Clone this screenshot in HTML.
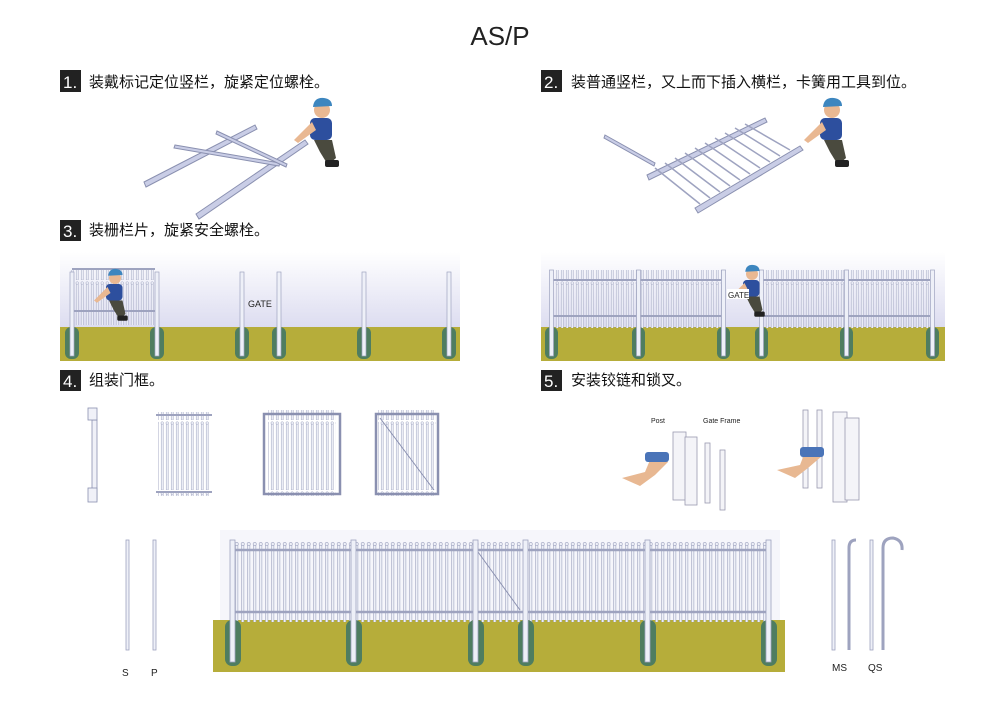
<!DOCTYPE html>
<html><head><meta charset="utf-8"><style>
html,body{margin:0;padding:0;background:#fff}
svg{display:block}
text{font-family:"Liberation Sans","Noto Sans CJK SC",sans-serif}
</style></head><body>
<svg width="1000" height="707" viewBox="0 0 1000 707" xmlns="http://www.w3.org/2000/svg">
<defs>
<pattern id="pk" x="0" y="0" width="6" height="90" patternUnits="userSpaceOnUse">
<rect x="1.5" y="4" width="2.4" height="86" fill="#eef0f8" stroke="#9ea3bf" stroke-width="0.6"/>
<circle cx="2.7" cy="4" r="1.6" fill="#eef0f8" stroke="#9ea3bf" stroke-width="0.6"/>
</pattern>
<pattern id="pk3" x="0" y="0" width="5" height="70" patternUnits="userSpaceOnUse">
<rect x="1.2" y="3" width="2" height="67" fill="#eef0f8" stroke="#9ea3bf" stroke-width="0.5"/>
<circle cx="2.2" cy="3" r="1.3" fill="#eef0f8" stroke="#9ea3bf" stroke-width="0.5"/>
</pattern>
<linearGradient id="sky" x1="0" y1="0" x2="0" y2="1">
<stop offset="0" stop-color="#fff"/><stop offset="1" stop-color="#dcdcf0"/>
</linearGradient>
<g id="man">
<circle cx="0" cy="0" r="8" fill="#e9b892"/>
<path d="M-9,-3 Q-8,-13 2,-12 Q10,-11 10,-4 Z" fill="#3d86bf"/>
<rect x="-12" y="8" width="22" height="22" rx="5" fill="#2d4f9e"/>
<path d="M-8,30 L10,30 L14,48 L6,55 L-2,42 Z" fill="#4a4a3e"/>
<rect x="3" y="50" width="14" height="7" rx="2" fill="#222"/>
<path d="M-10,12 L-28,30 L-24,33 L-6,20 Z" fill="#e9b892"/>
</g>
</defs>

<text x="500" y="45" text-anchor="middle" font-size="26" fill="#222">AS/P</text>

<rect x="60" y="70" width="21" height="22" fill="#222"/><text x="63" y="88" font-size="17" fill="#fff">1.</text>
<text x="89" y="87" font-size="15" fill="#111">装戴标记定位竖栏，旋紧定位螺栓。</text>
<rect x="541" y="70" width="21" height="22" fill="#222"/><text x="544" y="88" font-size="17" fill="#fff">2.</text>
<text x="571" y="87" font-size="15" fill="#111">装普通竖栏，又上而下插入横栏，卡簧用工具到位。</text>
<rect x="60" y="220" width="21" height="21" fill="#222"/><text x="63" y="237" font-size="17" fill="#fff">3.</text>
<text x="89" y="235" font-size="15" fill="#111">装栅栏片，旋紧安全螺栓。</text>
<rect x="60" y="370" width="21" height="21" fill="#222"/><text x="63" y="387" font-size="17" fill="#fff">4.</text>
<text x="89" y="385" font-size="15" fill="#111">组装门框。</text>
<rect x="541" y="370" width="21" height="21" fill="#222"/><text x="544" y="387" font-size="17" fill="#fff">5.</text>
<text x="571" y="385" font-size="15" fill="#111">安装铰链和锁叉。</text>

<g stroke="#8a90b0" stroke-width="1" fill="#c9cde6">
<polygon points="144,182 255,125 257,129 146,187"/>
<polygon points="196,214 305,140 308,144 199,219"/>
<polygon points="175,145 280,163 279,166 174,148"/>
<polygon points="217,131 287,164 286,167 216,134"/>
</g>
<use href="#man" transform="translate(322,110)"/>
<g stroke="#8a90b0" stroke-width="1" fill="#c9cde6">
<polygon points="647,175 765,118 767,122 649,180"/>
<polygon points="695,208 800,146 803,150 698,213"/>
<polygon points="605,135 655,163 654,166 604,138"/>
</g>
<g stroke="#9ea3c0" stroke-width="1.5">
<line x1="655" y1="168" x2="700" y2="204"/><line x1="665" y1="163" x2="710" y2="198"/>
<line x1="675" y1="158" x2="720" y2="192"/><line x1="685" y1="153" x2="730" y2="186"/>
<line x1="695" y1="148" x2="740" y2="180"/><line x1="705" y1="143" x2="750" y2="174"/>
<line x1="715" y1="138" x2="760" y2="168"/><line x1="725" y1="133" x2="770" y2="162"/>
<line x1="735" y1="128" x2="780" y2="156"/><line x1="745" y1="124" x2="790" y2="150"/>
</g>
<use href="#man" transform="translate(832,110)"/>

<rect x="60" y="252" width="400" height="76" fill="url(#sky)"/>
<rect x="60" y="327" width="400" height="34" fill="#b6ad3a"/>
<rect x="70" y="270" width="85" height="55" fill="url(#pk3)"/>
<line x1="72" y1="269" x2="155" y2="269" stroke="#9ea3bf" stroke-width="2"/>
<line x1="72" y1="311" x2="155" y2="311" stroke="#9ea3bf" stroke-width="2"/>
<g fill="#4f7d60">
<rect x="65" y="327" width="14" height="32" rx="6"/><rect x="150" y="327" width="14" height="32" rx="6"/>
<rect x="235" y="327" width="14" height="32" rx="6"/><rect x="272" y="327" width="14" height="32" rx="6"/>
<rect x="357" y="327" width="14" height="32" rx="6"/><rect x="442" y="327" width="14" height="32" rx="6"/>
</g>
<g fill="#eef0f8" stroke="#9ea3bf" stroke-width="0.7">
<rect x="70" y="272" width="4" height="84"/><rect x="155" y="272" width="4" height="84"/>
<rect x="240" y="272" width="4" height="84"/><rect x="277" y="272" width="4" height="84"/>
<rect x="362" y="272" width="4" height="84"/><rect x="447" y="272" width="4" height="84"/>
</g>
<use href="#man" transform="translate(115,278) scale(0.75)"/>
<text x="248" y="307" font-size="9" fill="#222">GATE</text>

<rect x="541" y="252" width="404" height="76" fill="url(#sky)"/>
<rect x="541" y="327" width="404" height="34" fill="#b6ad3a"/>
<rect x="553" y="270" width="170" height="58" fill="url(#pk3)"/>
<rect x="760" y="270" width="170" height="58" fill="url(#pk3)"/>
<g stroke="#9ea3bf" stroke-width="2">
<line x1="553" y1="280" x2="723" y2="280"/><line x1="553" y1="316" x2="723" y2="316"/>
<line x1="760" y1="280" x2="930" y2="280"/><line x1="760" y1="316" x2="930" y2="316"/>
</g>
<g fill="#4f7d60">
<rect x="545" y="327" width="13" height="32" rx="6"/><rect x="632" y="327" width="13" height="32" rx="6"/>
<rect x="717" y="327" width="13" height="32" rx="6"/><rect x="755" y="327" width="13" height="32" rx="6"/>
<rect x="840" y="327" width="13" height="32" rx="6"/><rect x="926" y="327" width="13" height="32" rx="6"/>
</g>
<g fill="#eef0f8" stroke="#9ea3bf" stroke-width="0.7">
<rect x="549.5" y="270" width="4" height="86"/><rect x="636.5" y="270" width="4" height="86"/>
<rect x="721.5" y="270" width="4" height="86"/><rect x="759.5" y="270" width="4" height="86"/>
<rect x="844.5" y="270" width="4" height="86"/><rect x="930.5" y="270" width="4" height="86"/>
</g>
<use href="#man" transform="translate(752,274) scale(0.75)"/>
<rect x="727" y="289" width="22" height="10" fill="#fff"/>
<text x="728" y="298" font-size="8" fill="#222">GATE</text>

<g fill="#f0f1f8" stroke="#8a90b0" stroke-width="0.8">
<rect x="92" y="420" width="5" height="80"/><rect x="88" y="408" width="9" height="12"/><rect x="88" y="488" width="9" height="14"/>
</g>
<rect x="158" y="412" width="52" height="84" fill="url(#pk3)"/>
<g stroke="#9ea3bf" stroke-width="2"><line x1="156" y1="415" x2="212" y2="415"/><line x1="156" y1="492" x2="212" y2="492"/></g>
<rect x="268" y="410" width="68" height="86" fill="url(#pk3)"/>
<g stroke="#8a90b0" stroke-width="2.5" fill="none"><rect x="264" y="414" width="76" height="80"/></g>
<rect x="378" y="410" width="58" height="86" fill="url(#pk3)"/>
<g stroke="#8a90b0" stroke-width="2.5" fill="none"><rect x="376" y="414" width="62" height="80"/></g>
<line x1="380" y1="418" x2="434" y2="490" stroke="#8a90b0"/>

<text x="651" y="423" font-size="7" fill="#222">Post</text>
<text x="703" y="423" font-size="7" fill="#222">Gate Frame</text>
<g fill="#f4f4f8" stroke="#9a9ab0" stroke-width="0.8">
<rect x="673" y="432" width="13" height="68"/><rect x="685" y="437" width="12" height="68"/>
<rect x="705" y="443" width="5" height="60"/><rect x="720" y="450" width="5" height="60"/>
<rect x="803" y="410" width="5" height="78"/><rect x="817" y="410" width="5" height="78"/>
<rect x="833" y="412" width="14" height="90"/><rect x="845" y="418" width="14" height="82"/>
</g>
<path d="M622,478 L645,472 L650,460 L660,455 L668,462 L655,475 L640,486 Z" fill="#e8b892"/>
<rect x="645" y="452" width="24" height="10" rx="3" fill="#4a74b8"/>
<path d="M777,470 L800,465 L805,452 L815,449 L822,456 L808,468 L795,478 Z" fill="#e8b892"/>
<rect x="800" y="447" width="24" height="10" rx="3" fill="#4a74b8"/>

<rect x="220" y="530" width="560" height="95" fill="#f6f6fb"/>
<rect x="213" y="620" width="572" height="52" fill="#b6ad3a"/>
<rect x="230" y="540" width="538" height="82" fill="url(#pk)"/>
<g stroke="#9ea3bf" stroke-width="2.5">
<line x1="230" y1="550" x2="768" y2="550"/><line x1="230" y1="612" x2="768" y2="612"/>
</g>
<line x1="478" y1="552" x2="520" y2="610" stroke="#8a90b0"/>
<g fill="#4f7d60">
<rect x="225" y="620" width="16" height="46" rx="7"/><rect x="346" y="620" width="16" height="46" rx="7"/>
<rect x="468" y="620" width="16" height="46" rx="7"/><rect x="518" y="620" width="16" height="46" rx="7"/>
<rect x="640" y="620" width="16" height="46" rx="7"/><rect x="761" y="620" width="16" height="46" rx="7"/>
</g>
<g fill="#eef0f8" stroke="#9ea3bf" stroke-width="0.8">
<rect x="230" y="540" width="5" height="122"/><rect x="351" y="540" width="5" height="122"/>
<rect x="473" y="540" width="5" height="122"/><rect x="523" y="540" width="5" height="122"/>
<rect x="645" y="540" width="5" height="122"/><rect x="766" y="540" width="5" height="122"/>
</g>

<g fill="#eef0f8" stroke="#9ea3bf" stroke-width="0.8">
<rect x="126" y="540" width="3" height="110"/><rect x="153" y="540" width="3" height="110"/>
<rect x="832" y="540" width="3" height="110"/><rect x="870" y="540" width="3" height="110"/>
</g>
<path d="M849,650 L849,548 Q849,540 856,540" fill="none" stroke="#9ea3bf" stroke-width="3"/>
<path d="M883,650 L883,548 Q883,538 893,538 Q903,540 902,550" fill="none" stroke="#9ea3bf" stroke-width="3"/>
<text x="122" y="676" font-size="10" fill="#222">S</text>
<text x="151" y="676" font-size="10" fill="#222">P</text>
<text x="832" y="671" font-size="10" fill="#222">MS</text>
<text x="868" y="671" font-size="10" fill="#222">QS</text>
</svg>
</body></html>
